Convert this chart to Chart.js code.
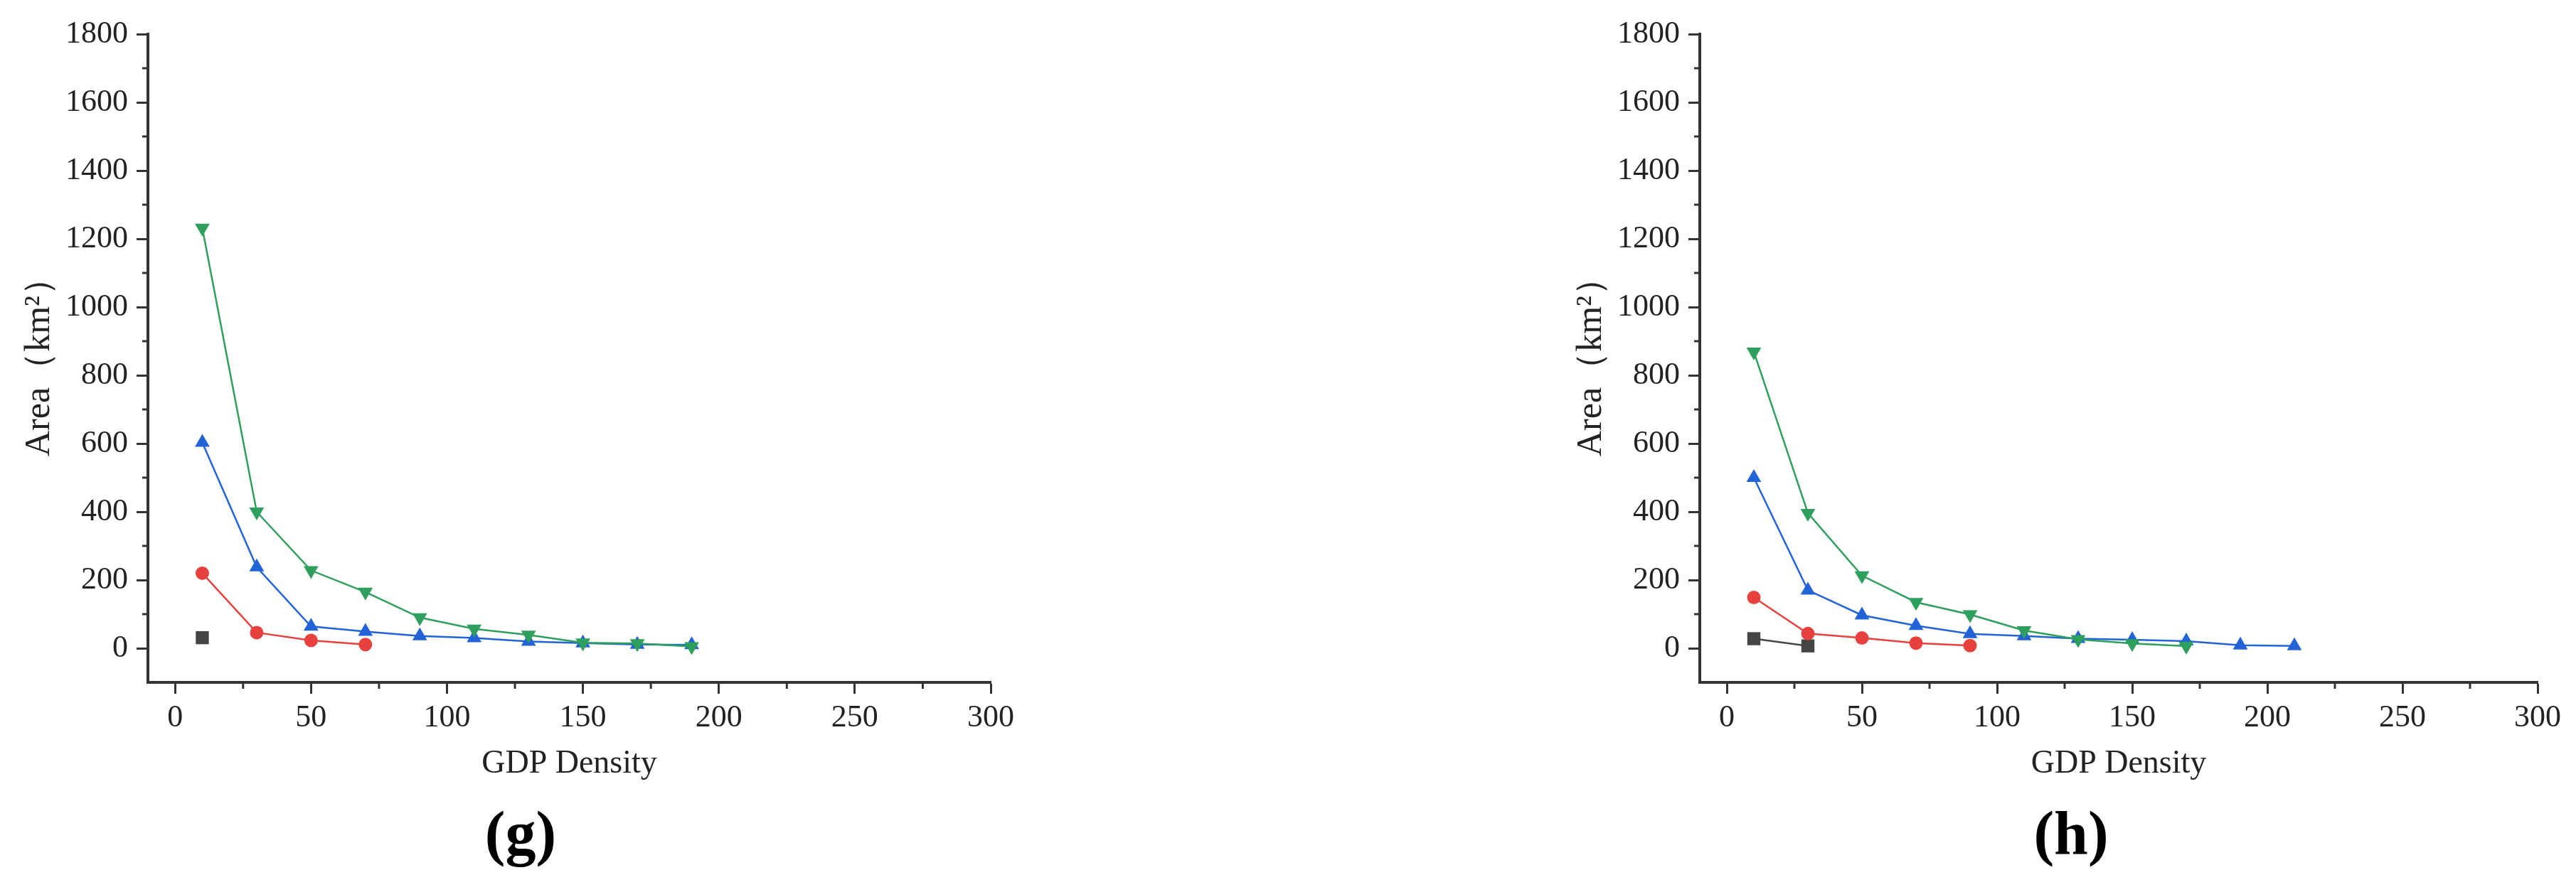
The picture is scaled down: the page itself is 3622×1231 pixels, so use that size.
<!DOCTYPE html>
<html>
<head>
<meta charset="utf-8">
<script src="https://cdn.jsdelivr.net/npm/chart.js@4/dist/chart.umd.min.js"></script>
<style>
  body { margin: 0; background: #fff; width: 3622px; height: 1231px; position: relative; overflow: hidden; }
  canvas { position: absolute; top: 0; }
  .panel-tag { position: absolute; font-family: "Liberation Serif", serif; font-weight: bold; font-size: 86px; color: #000; transform: translate(-50%, -50%); line-height: 1; }
</style>
</head>
<body>
<canvas id="chart_g" width="1450" height="1125" style="left:0px"></canvas>
<canvas id="chart_h" width="1443" height="1125" style="left:2182px"></canvas>
<div class="panel-tag" style="left:732px; top:1172px">(g)</div>
<div class="panel-tag" style="left:2912px; top:1172px">(h)</div>
<script>
// GDP density classes (x values)
const gdpX = [10, 30, 50, 70, 90, 110, 130, 150, 170, 190, 210];

// panel (g) areas, km2
const gBlack = [31];
const gRed = [220, 46, 23, 11];
const gBlue = [603, 238, 64, 49, 36, 30, 20, 15, 11, 10];
const gGreen = [1232, 400, 228, 165, 90, 57, 39, 16, 14, 5];

// panel (h) areas, km2
const hBlack = [28, 7];
const hRed = [149, 43, 30, 15, 8];
const hBlue = [500, 170, 97, 66, 42, 36, 28, 25, 21, 9, 7];
const hGreen = [869, 396, 213, 135, 99, 52, 26, 14, 6];

// axis ticks
const xTicks = [0, 50, 100, 150, 200, 250, 300];
const yTicks = [0, 200, 400, 600, 800, 1000, 1200, 1400, 1600, 1800];

const colors = { black: '#454545', red: '#E8403D', blue: '#2263D8', green: '#2E9F5C' };
const serif = '"Liberation Serif", "Times New Roman", serif';
const axisColor = '#333';

const toPoints = (vals) => vals.map((v, i) => ({ x: gdpX[i], y: v }));

const series = (vals, color, style, radius, rotation) => ({
    data: toPoints(vals),
    borderColor: color,
    backgroundColor: color,
    borderWidth: 2.5,
    pointStyle: style,
    pointRadius: radius,
    pointRotation: rotation || 0,
    pointBorderWidth: 0,
    pointBackgroundColor: color,
    tension: 0
});

// short minor ticks between the labelled ones
const minorTicks = {
    id: 'minorTicks',
    afterDraw(chart) {
        const { ctx, scales: { x, y } } = chart;
        ctx.save();
        ctx.strokeStyle = axisColor;
        ctx.lineWidth = 3;
        ctx.beginPath();
        for (let v = 100; v < 1800; v += 200) {
            const py = y.getPixelForValue(v);
            ctx.moveTo(x.left - 8, py);
            ctx.lineTo(x.left, py);
        }
        for (let v = 25; v < 300; v += 50) {
            const px = x.getPixelForValue(v);
            ctx.moveTo(px, y.bottom);
            ctx.lineTo(px, y.bottom + 9);
        }
        ctx.stroke();
        ctx.restore();
    }
};

const create_chart = (elem_id, black, red, blue, green) => {
    const ctx = document.getElementById(elem_id).getContext('2d');
    return new Chart(ctx, {
        type: 'line',
        data: {
            // index 0 is drawn on top
            datasets: [
                series(green, colors.green, 'triangle', 12, 180),
                series(blue, colors.blue, 'triangle', 12),
                series(red, colors.red, 'circle', 9.5),
                series(black, colors.black, 'rect', 13)
            ]
        },
        options: {
            responsive: false,
            animation: false,
            layout: { padding: { left: 0, top: 48, right: 57, bottom: 0 } },
            plugins: { legend: { display: false }, tooltip: { enabled: false } },
            scales: {
                x: {
                    type: 'linear',
                    min: -10,
                    max: 300,
                    afterBuildTicks: (s) => { s.ticks = xTicks.map(v => ({ value: v })); },
                    afterFit: (s) => { s.height = 165; },
                    border: { display: true, color: axisColor, width: 4 },
                    grid: { drawOnChartArea: false, drawTicks: true, tickLength: 16, tickWidth: 3, tickColor: axisColor },
                    ticks: { autoSkip: false, maxRotation: 0, padding: 8, color: '#222', font: { family: serif, size: 44 }, callback: (v) => String(v) },
                    title: { display: true, text: 'GDP Density', color: '#222', padding: { top: 0, bottom: 22 }, font: { family: serif, size: 46 } }
                },
                y: {
                    type: 'linear',
                    min: -100,
                    max: 1800,
                    afterBuildTicks: (s) => { s.ticks = yTicks.map(v => ({ value: v })); },
                    afterFit: (s) => { s.width = 208; },
                    border: { display: true, color: axisColor, width: 4 },
                    grid: { drawOnChartArea: false, drawTicks: true, tickLength: 16, tickWidth: 3, tickColor: axisColor },
                    ticks: { autoSkip: false, padding: 12, color: '#222', font: { family: serif, size: 44 }, callback: (v) => String(v) },
                    title: { display: true, text: 'Area（km²）', color: '#222', padding: { top: 26, bottom: 0 }, font: { family: serif, size: 50 } }
                }
            }
        },
        plugins: [minorTicks]
    });
};

create_chart('chart_g', gBlack, gRed, gBlue, gGreen);
create_chart('chart_h', hBlack, hRed, hBlue, hGreen);
</script>
</body>
</html>
